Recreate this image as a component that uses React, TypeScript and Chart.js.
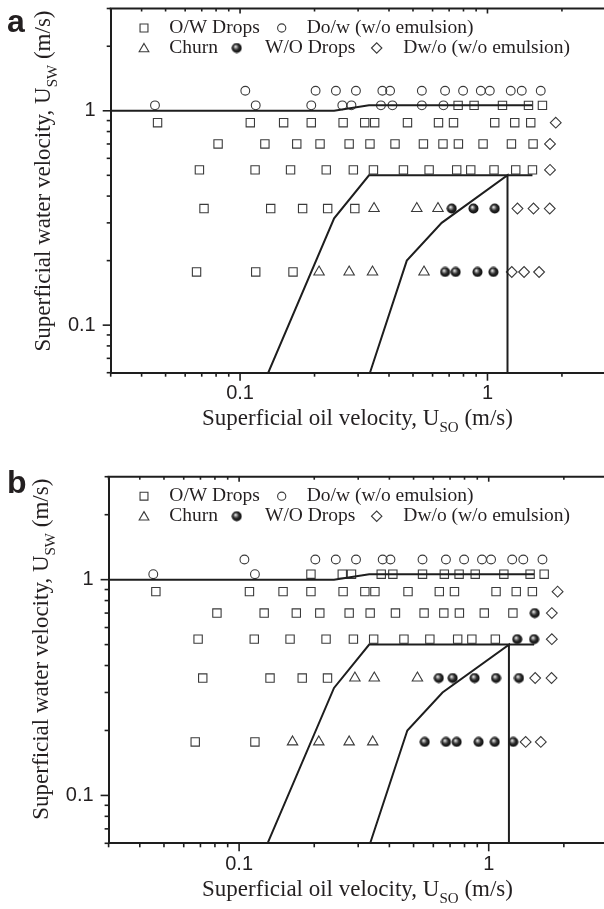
import React, { useEffect, useRef } from 'react';
import { Chart, registerables } from 'chart.js';
import { drawPoint } from 'chart.js/helpers';

Chart.register(...registerables);

type P = [number, number];

// ---------- axes ----------
const X_MIN = 0.03;
const X_MAX = 3;
const Y_MIN = 0.06;
const Y_MAX = 3;
const X_LABELED = [0.1, 1];
const Y_LABELED = [0.1, 1];
const X_MINOR = [0.03, 0.04, 0.05, 0.06, 0.07, 0.08, 0.09, 0.2, 0.3, 0.4, 0.5, 0.6, 0.7, 0.8, 0.9, 2, 3];
const Y_MINOR = [0.06, 0.07, 0.08, 0.09, 0.2, 0.3, 0.4, 0.5, 0.6, 0.7, 0.8, 0.9, 2, 3];

// ---------- texts ----------
const X_TITLE = ['Superficial oil velocity, U', 'SO', ' (m/s)'];
const Y_TITLE = ['Superficial water velocity, U', 'SW', ' (m/s)'];
const LEGEND_LABELS = ['O/W Drops', 'Do/w (w/o emulsion)', 'Churn', 'W/O Drops', 'Dw/o (w/o emulsion)'];

// ---------- transition boundaries (same in both panels) ----------
const BOUNDARY_UPPER: P[] = [[0.03, 1], [0.24, 1], [0.332, 1.06], [1.52, 1.06]];
const BOUNDARY_CHURN: P[] = [[0.13, 0.06], [0.24, 0.315], [0.332, 0.5], [1.52, 0.5]];
const BOUNDARY_WO: P[] = [[0.335, 0.06], [0.472, 0.2], [0.653, 0.3], [1.205, 0.5], [1.205, 0.06]];

// ---------- panel a ----------
const A_OW_DROPS: P[] = [
  [0.761, 1.06], [0.883, 1.06], [1.15, 1.06], [1.465, 1.06], [1.668, 1.06],
  [0.0464, 0.88], [0.11, 0.88], [0.15, 0.88], [0.194, 0.88], [0.261, 0.88], [0.319, 0.88], [0.35, 0.88],
  [0.475, 0.88], [0.634, 0.88], [0.729, 0.88], [1.07, 0.88], [1.289, 0.88], [1.496, 0.88],
  [0.0815, 0.7], [0.126, 0.7], [0.1695, 0.7], [0.2105, 0.7], [0.276, 0.7], [0.335, 0.7], [0.423, 0.7],
  [0.551, 0.7], [0.661, 0.7], [0.763, 0.7], [0.96, 0.7], [1.25, 0.7], [1.529, 0.7],
  [0.0685, 0.53], [0.115, 0.53], [0.16, 0.53], [0.223, 0.53], [0.287, 0.53], [0.346, 0.53], [0.4575, 0.53],
  [0.581, 0.53], [0.751, 0.53], [0.856, 0.53], [1.063, 0.53], [1.301, 0.53], [1.52, 0.53],
  [0.0715, 0.35], [0.133, 0.35], [0.179, 0.35], [0.226, 0.35], [0.291, 0.35],
  [0.0667, 0.177], [0.1157, 0.177], [0.1637, 0.177],
];
const A_DOW: P[] = [
  [0.105, 1.24], [0.202, 1.24], [0.244, 1.24], [0.294, 1.24], [0.376, 1.24], [0.404, 1.24], [0.543, 1.24],
  [0.674, 1.24], [0.797, 1.24], [0.94, 1.24], [1.022, 1.24], [1.242, 1.24], [1.376, 1.24], [1.642, 1.24],
  [0.0453, 1.06], [0.1157, 1.06], [0.194, 1.06], [0.259, 1.06], [0.282, 1.06], [0.371, 1.06], [0.413, 1.06],
  [0.543, 1.06], [0.664, 1.06],
];
const A_CHURN: P[] = [
  [0.348, 0.35], [0.518, 0.35], [0.631, 0.35],
  [0.2086, 0.177], [0.276, 0.177], [0.343, 0.177], [0.554, 0.177],
];
const A_WO_DROPS: P[] = [
  [0.717, 0.35], [0.878, 0.35], [1.07, 0.35],
  [0.674, 0.177], [0.744, 0.177], [0.911, 0.177], [1.057, 0.177],
];
const A_DWO: P[] = [
  [1.888, 0.88], [1.79, 0.7], [1.79, 0.53],
  [1.322, 0.35], [1.535, 0.35], [1.785, 0.35],
  [1.254, 0.177], [1.406, 0.177], [1.617, 0.177],
];

// ---------- panel b ----------
const B_OW_DROPS: P[] = [
  [0.194, 1.06], [0.259, 1.06], [0.282, 1.06], [0.371, 1.06], [0.413, 1.06], [0.543, 1.06],
  [0.664, 1.06], [0.761, 1.06], [0.883, 1.06], [1.15, 1.06], [1.465, 1.06], [1.668, 1.06],
  [0.0464, 0.88], [0.11, 0.88], [0.15, 0.88], [0.194, 0.88], [0.261, 0.88], [0.319, 0.88], [0.35, 0.88],
  [0.475, 0.88], [0.634, 0.88], [0.729, 0.88], [1.07, 0.88], [1.289, 0.88], [1.496, 0.88],
  [0.0815, 0.7], [0.126, 0.7], [0.1695, 0.7], [0.2105, 0.7], [0.276, 0.7], [0.335, 0.7], [0.423, 0.7],
  [0.551, 0.7], [0.661, 0.7], [0.763, 0.7], [0.96, 0.7], [1.25, 0.7],
  [0.0685, 0.53], [0.115, 0.53], [0.16, 0.53], [0.223, 0.53], [0.287, 0.53], [0.346, 0.53], [0.4575, 0.53],
  [0.581, 0.53], [0.751, 0.53], [0.856, 0.53], [1.063, 0.53],
  [0.0715, 0.35], [0.133, 0.35], [0.179, 0.35], [0.226, 0.35],
  [0.0667, 0.177], [0.1157, 0.177],
];
const B_DOW: P[] = [
  [0.105, 1.24], [0.202, 1.24], [0.244, 1.24], [0.294, 1.24], [0.376, 1.24], [0.404, 1.24], [0.543, 1.24],
  [0.674, 1.24], [0.797, 1.24], [0.94, 1.24], [1.022, 1.24], [1.242, 1.24], [1.376, 1.24], [1.642, 1.24],
  [0.0453, 1.06], [0.1157, 1.06],
];
const B_CHURN: P[] = [
  [0.291, 0.35], [0.348, 0.35], [0.518, 0.35],
  [0.1637, 0.177], [0.2086, 0.177], [0.276, 0.177], [0.343, 0.177],
];
const B_WO_DROPS: P[] = [
  [1.529, 0.7],
  [1.301, 0.53], [1.52, 0.53],
  [0.631, 0.35], [0.717, 0.35], [0.878, 0.35], [1.07, 0.35], [1.322, 0.35],
  [0.554, 0.177], [0.674, 0.177], [0.744, 0.177], [0.911, 0.177], [1.057, 0.177], [1.254, 0.177],
];
const B_DWO: P[] = [
  [1.888, 0.88], [1.79, 0.7], [1.79, 0.53],
  [1.535, 0.35], [1.785, 0.35],
  [1.406, 0.177], [1.617, 0.177],
];

// ---------- styling ----------
const INK = '#1e1e1e';
const MARK = '#3a3a3a';
const SERIF = '"Liberation Serif", "Times New Roman", serif';
const SANS = '"Liberation Sans", Arial, sans-serif';
const CANVAS_W = 620;

const makeSphere = (): HTMLCanvasElement => {
  const c = document.createElement('canvas');
  c.width = 11;
  c.height = 11;
  const g = c.getContext('2d')!;
  const grad = g.createRadialGradient(4.2, 4, 0.3, 5.5, 5.5, 5.6);
  grad.addColorStop(0, '#f0f0f0');
  grad.addColorStop(0.22, '#8c8c8c');
  grad.addColorStop(0.5, '#2a2a2a');
  grad.addColorStop(1, '#050505');
  g.fillStyle = grad;
  g.beginPath();
  g.arc(5.5, 5.5, 5, 0, Math.PI * 2);
  g.fill();
  return c;
};

const toXY = (pts: P[]) => pts.map(([x, y]) => ({ x, y }));

type PanelCfg = {
  letter: string;
  top: number;
  height: number;
  left: number;
  padTop: number;
  padRight: number;
  xAxisH: number;
  letterBase: number;
  ow: P[];
  dow: P[];
  churn: P[];
  wo: P[];
  dwo: P[];
};

const PANELS: PanelCfg[] = [
  { letter: 'a', top: 0, height: 440, left: 110.7, padTop: 8.5, padRight: 14.5, xAxisH: 67.3, letterBase: 31.7,
    ow: A_OW_DROPS, dow: A_DOW, churn: A_CHURN, wo: A_WO_DROPS, dwo: A_DWO },
  { letter: 'b', top: 468, height: 441, left: 108.6, padTop: 8.7, padRight: 12.2, xAxisH: 65.7, letterBase: 25,
    ow: B_OW_DROPS, dow: B_DOW, churn: B_CHURN, wo: B_WO_DROPS, dwo: B_DWO },
];

function drawSubText(ctx: CanvasRenderingContext2D, parts: string[], cx: number, baseY: number, size: number) {
  const main = `${size}px ${SERIF}`;
  const small = `${Math.round(size * 0.64)}px ${SERIF}`;
  const widths = parts.map((t, i) => {
    ctx.font = i === 1 ? small : main;
    return ctx.measureText(t).width;
  });
  const total = widths.reduce((a, b) => a + b, 0);
  let x = cx - total / 2;
  ctx.textAlign = 'left';
  ctx.textBaseline = 'alphabetic';
  parts.forEach((t, i) => {
    ctx.font = i === 1 ? small : main;
    ctx.fillText(t, x, i === 1 ? baseY + size * 0.3 : baseY);
    x += widths[i];
  });
}

function Panel({ cfg }: { cfg: PanelCfg }) {
  const ref = useRef<HTMLCanvasElement>(null);
  useEffect(() => {
    const sphere = makeSphere();
    const marker = (ctx: CanvasRenderingContext2D, style: string, x: number, y: number, r: number) => {
      if (style === 'sphere') {
        ctx.drawImage(sphere, x - sphere.width / 2, y - sphere.height / 2);
        return;
      }
      ctx.save();
      ctx.strokeStyle = MARK;
      ctx.fillStyle = 'rgba(0,0,0,0)';
      ctx.lineWidth = 1.1;
      drawPoint(ctx, { pointStyle: style as any, rotation: 0, radius: r, borderWidth: 1.1 }, x, y);
      ctx.restore();
    };

    const decor = {
      id: 'decor',
      afterDraw(chart: any) {
        const { ctx, chartArea: ca, scales } = chart;
        const xs = scales.x;
        const ys = scales.y;
        ctx.save();
        ctx.strokeStyle = INK;
        ctx.lineWidth = 1.6;
        const seg = (x1: number, y1: number, x2: number, y2: number) => {
          ctx.beginPath();
          ctx.moveTo(x1, y1);
          ctx.lineTo(x2, y2);
          ctx.stroke();
        };
        // top frame line
        ctx.lineWidth = 2;
        seg(ca.left - 1, ca.top, ca.right + 2, ca.top);
        ctx.lineWidth = 1.6;
        // ticks
        for (const v of X_MINOR) {
          const px = xs.getPixelForValue(v);
          seg(px, ca.bottom, px, ca.bottom + 4);
          seg(px, ca.top, px, ca.top + 3);
        }
        for (const v of X_LABELED) {
          const px = xs.getPixelForValue(v);
          seg(px, ca.bottom, px, ca.bottom + 8);
          seg(px, ca.top, px, ca.top + 5);
        }
        for (const v of Y_MINOR) {
          const py = ys.getPixelForValue(v);
          seg(ca.left - 4, py, ca.left, py);
        }
        for (const v of Y_LABELED) {
          const py = ys.getPixelForValue(v);
          seg(ca.left - 8, py, ca.left, py);
        }
        // titles
        ctx.fillStyle = '#231f20';
        drawSubText(ctx, X_TITLE, 357.5, ca.bottom + 52.3, 23);
        ctx.save();
        ctx.translate(ca.left - 61, ca.top + 172.5);
        ctx.rotate(-Math.PI / 2);
        drawSubText(ctx, Y_TITLE, 0, 0, 23);
        ctx.restore();
        // panel letter
        ctx.font = `bold 32px ${SANS}`;
        ctx.textAlign = 'left';
        ctx.textBaseline = 'alphabetic';
        ctx.fillText(cfg.letter, 7, cfg.letterBase);
        // legend
        const r1 = ca.top + 19.5;
        const r2 = ca.top + 39.5;
        marker(ctx, 'rect', 144, r1, 5.6);
        marker(ctx, 'circle', 281.7, r1, 4.1);
        marker(ctx, 'triangle', 144, r2 + 1, 5.6);
        marker(ctx, 'sphere', 236.7, r2, 0);
        marker(ctx, 'rectRot', 376.7, r2, 5.2);
        ctx.fillStyle = '#231f20';
        ctx.font = `19.5px ${SERIF}`;
        ctx.textBaseline = 'middle';
        ctx.textAlign = 'left';
        ctx.fillText(LEGEND_LABELS[0], 169.3, r1);
        ctx.fillText(LEGEND_LABELS[1], 306.7, r1);
        ctx.fillText(LEGEND_LABELS[2], 169.3, r2);
        ctx.fillText(LEGEND_LABELS[3], 265, r2);
        ctx.fillText(LEGEND_LABELS[4], 403.3, r2);
        ctx.restore();
      },
    };

    const lineDs = (pts: P[]) => ({
      data: toXY(pts),
      showLine: true,
      borderColor: INK,
      borderWidth: 2,
      pointRadius: 0,
      fill: false,
      tension: 0,
    });
    const pointDs = (pts: P[], style: any, r: number) => ({
      data: toXY(pts),
      showLine: false,
      pointStyle: style,
      pointRadius: r,
      pointBorderColor: MARK,
      pointBackgroundColor: 'rgba(0,0,0,0)',
      pointBorderWidth: 1.1,
    });

    const chart = new Chart(ref.current!, {
      type: 'scatter',
      data: {
        datasets: [
          lineDs(BOUNDARY_UPPER),
          lineDs(BOUNDARY_CHURN),
          lineDs(BOUNDARY_WO),
          pointDs(cfg.ow, 'rect', 5.9),
          pointDs(cfg.dow, 'circle', 4.4),
          pointDs(cfg.churn, 'triangle', 6),
          pointDs(cfg.wo, sphere, 5),
          pointDs(cfg.dwo, 'rectRot', 5.4),
        ] as any,
      },
      options: {
        responsive: false,
        animation: false,
        devicePixelRatio: 1,
        events: [],
        layout: { padding: { top: cfg.padTop, right: cfg.padRight, left: 0, bottom: 0 } },
        plugins: { legend: { display: false }, tooltip: { enabled: false }, title: { display: false } },
        scales: {
          x: {
            type: 'logarithmic',
            position: 'bottom',
            min: X_MIN,
            max: X_MAX,
            grid: { display: false, drawTicks: false },
            border: { display: true, color: INK, width: 2 },
            afterBuildTicks: (s: any) => { s.ticks = X_LABELED.map((v) => ({ value: v })); },
            afterFit: (s: any) => {
              s.height = cfg.xAxisH;
              s.paddingLeft = 0;
              s.paddingRight = 0;
              s.paddingTop = 0;
              s.paddingBottom = 0;
            },
            ticks: {
              autoSkip: false,
              maxRotation: 0,
              padding: 9,
              color: '#231f20',
              font: { family: SANS, size: 20 },
              callback: (v: any) => String(v),
            },
          },
          y: {
            type: 'logarithmic',
            position: 'left',
            min: Y_MIN,
            max: Y_MAX,
            grid: { display: false, drawTicks: false },
            border: { display: true, color: INK, width: 2 },
            afterBuildTicks: (s: any) => { s.ticks = Y_LABELED.map((v) => ({ value: v })); },
            afterFit: (s: any) => {
              s.width = cfg.left;
              s.paddingLeft = 0;
              s.paddingRight = 0;
              s.paddingTop = 0;
              s.paddingBottom = 0;
            },
            ticks: {
              autoSkip: false,
              padding: 15,
              color: '#231f20',
              font: { family: SANS, size: 20 },
              callback: (v: any) => String(v),
            },
          },
        },
      } as any,
      plugins: [decor],
    });
    return () => chart.destroy();
  }, [cfg]);
  return (
    <canvas
      ref={ref}
      width={CANVAS_W}
      height={cfg.height}
      style={{ position: 'absolute', left: 0, top: cfg.top, width: CANVAS_W, height: cfg.height }}
    />
  );
}

export default function App() {
  return (
    <div
      style={{
        position: 'absolute',
        left: 0,
        top: 0,
        width: 604,
        height: 909,
        overflow: 'hidden',
        background: '#ffffff',
      }}
    >
      {PANELS.map((p) => (
        <Panel key={p.letter} cfg={p} />
      ))}
    </div>
  );
}
